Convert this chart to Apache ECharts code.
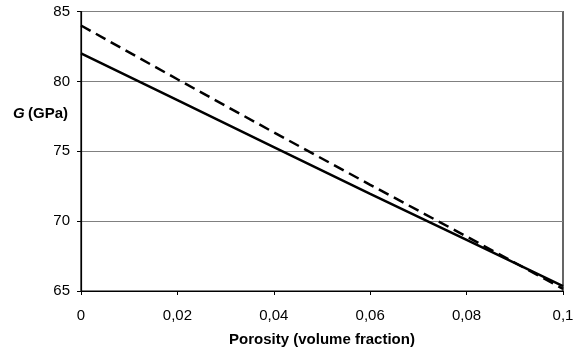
<!DOCTYPE html>
<html>
<head>
<meta charset="utf-8">
<script src="https://cdn.jsdelivr.net/npm/echarts@6/dist/echarts.min.js"></script>
<style>
html,body{margin:0;padding:0;background:#fff;}
#chart{width:583px;height:352px;}
</style>
</head>
<body>
<div id="chart"></div>
<script>
var porosity = [0, 0.02, 0.04, 0.06, 0.08, 0.1];
var solidG = [82, 78.65, 75.3, 71.95, 68.65, 65.35];
var dashedG = [84, 80.15, 76.35, 72.6, 68.9, 65.15];
var yTicks = [65, 70, 75, 80, 85];
var xLabelName = 'Porosity (volume fraction)';

function pairs(xs, ys){ return xs.map(function(x,i){ return [x, ys[i]]; }); }

var FONT = '"Liberation Sans", Arial, sans-serif';
var chart = echarts.init(document.getElementById('chart'), null, {renderer:'canvas'});
chart.setOption({
  animation:false,
  backgroundColor:'#fff',
  grid:{left:81, right:20, top:11.5, bottom:60, show:true, borderColor:'#000', borderWidth:1.2, backgroundColor:'transparent'},
  xAxis:{
    type:'value', min:0, max:0.1, interval:0.02,
    name:xLabelName, nameLocation:'middle', nameGap:41,
    nameTextStyle:{fontFamily:FONT, fontSize:15, fontWeight:'bold', color:'#000'},
    axisLine:{show:true, lineStyle:{color:'#000', width:1.2}},
    axisTick:{show:true, length:4, lineStyle:{color:'#000'}},
    splitLine:{show:false},
    axisLabel:{fontFamily:FONT, fontSize:15, color:'#000', margin:17,
      formatter:function(v){ return String(Math.round(v*100)/100).replace('.', ','); }}
  },
  yAxis:{
    type:'value', min:yTicks[0], max:yTicks[yTicks.length-1], interval:5,
    axisLine:{show:true, lineStyle:{color:'#000', width:1.2}},
    axisTick:{show:true, length:4, lineStyle:{color:'#000'}},
    splitLine:{show:true, lineStyle:{color:'#808080', width:1}},
    axisLabel:{fontFamily:FONT, fontSize:15, color:'#000', margin:11}
  },
  graphic:[{
    type:'text', left:13, top:106,
    style:{
      text:'{i|G} {b|(GPa)}',
      rich:{
        i:{fontFamily:FONT, fontSize:15, fontWeight:'bold', fontStyle:'italic', fill:'#000'},
        b:{fontFamily:FONT, fontSize:15, fontWeight:'bold', fill:'#000'}
      }
    }
  }],
  series:[
    {type:'line', data:pairs(porosity, solidG), symbol:'none', smooth:false,
     lineStyle:{color:'#000', width:2.5, type:'solid'}},
    {type:'line', data:pairs(porosity, dashedG), symbol:'none', smooth:false,
     lineStyle:{color:'#000', width:2.5, type:[11,6]}}
  ]
});
</script>
</body>
</html>
